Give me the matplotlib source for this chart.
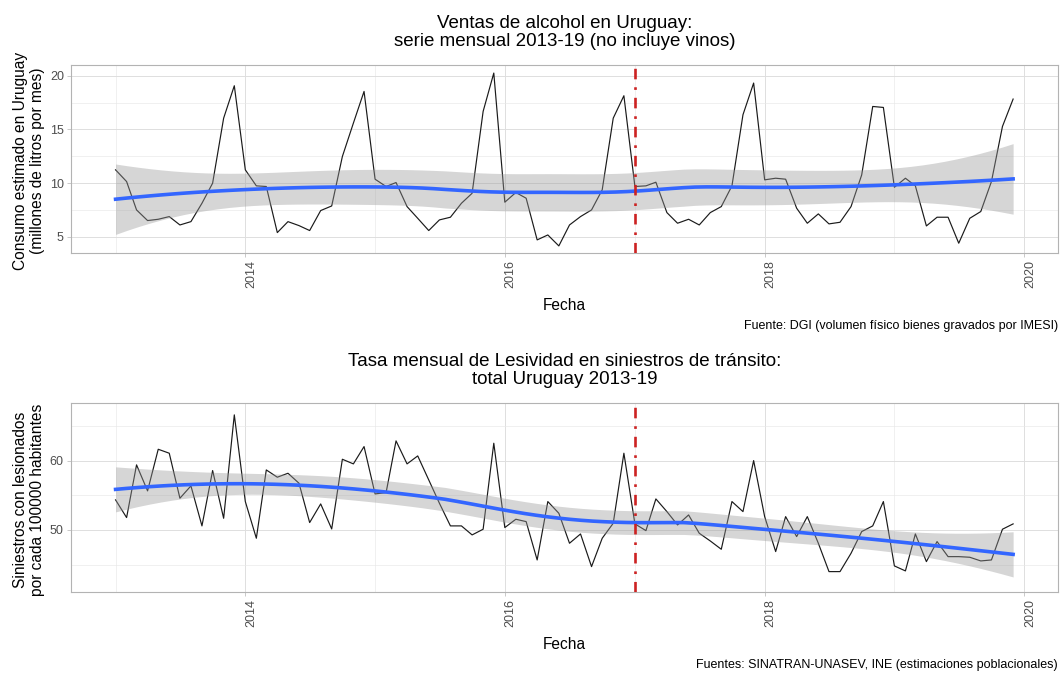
import numpy as np
import pandas as pd
import matplotlib
matplotlib.use("Agg")
import matplotlib.pyplot as plt
import matplotlib.dates as mdates
from matplotlib.ticker import MultipleLocator

plt.rcParams["font.family"] = ["Liberation Sans", "DejaVu Sans"]

# --- data ----------------------------------------------------------------
meses = pd.date_range("2013-01-01", periods=84, freq="MS")

alcohol = [
    11.24, 10.15, 7.51, 6.52, 6.64, 6.89, 6.11, 6.42, 8.13, 10.00, 16.05, 19.07,
    11.24, 9.75, 9.69, 5.40, 6.42, 6.05, 5.59, 7.45, 7.88, 12.48, 15.59, 18.54,
    10.37, 9.69, 10.06, 7.82, 6.73, 5.59, 6.58, 6.83, 8.13, 9.06, 16.68, 20.25,
    8.23, 9.13, 8.60, 4.72, 5.18, 4.16, 6.11, 6.89, 7.51, 9.38, 16.05, 18.14,
    9.69, 9.75, 10.09, 7.26, 6.27, 6.64, 6.11, 7.26, 7.82, 9.75, 16.37, 19.32,
    10.31, 10.46, 10.37, 7.67, 6.27, 7.14, 6.21, 6.36, 7.82, 10.77, 17.14, 17.05,
    9.62, 10.46, 9.75, 6.02, 6.83, 6.83, 4.41, 6.73, 7.36, 10.15, 15.28, 17.83,
]

lesividad = [
    54.33, 51.78, 59.38, 55.63, 61.63, 61.06, 54.57, 56.35, 50.58, 58.56, 51.68, 66.59,
    54.09, 48.80, 58.65, 57.60, 58.17, 56.73, 51.06, 53.75, 50.14, 60.19, 59.52, 62.02,
    55.19, 55.38, 62.84, 59.52, 60.67, 57.21, 53.85, 50.58, 50.58, 49.28, 50.10, 62.50,
    50.34, 51.54, 51.20, 45.67, 54.09, 52.40, 48.08, 49.42, 44.71, 48.80, 50.96, 61.06,
    50.87, 49.90, 54.47, 52.64, 50.72, 52.16, 49.52, 48.41, 47.21, 54.09, 52.64, 60.00,
    51.92, 46.88, 51.92, 49.04, 51.92, 48.08, 43.99, 43.99, 46.63, 49.76, 50.58, 54.09,
    44.81, 44.09, 49.42, 45.43, 48.32, 46.15, 46.15, 46.06, 45.53, 45.67, 50.10, 50.87,
]

fecha_corte = pd.Timestamp("2017-01-01")

titulos = [
    ("Ventas de alcohol en Uruguay:", "serie mensual 2013-19 (no incluye vinos)"),
    ("Tasa mensual de Lesividad en siniestros de tránsito:", "total Uruguay 2013-19"),
]
ylabels = [
    "Consumo estimado en Uruguay\n(millones de litros por mes)",
    "Siniestros con lesionados\npor cada 100000 habitantes",
]
fuentes = [
    "Fuente: DGI (volumen físico bienes gravados por IMESI)",
    "Fuentes: SINATRAN-UNASEV, INE (estimaciones poblacionales)",
]

W, H = 1061, 673


def fx(px):
    return px / W


def fy(py):
    return 1 - py / H


def loess(t, y, t_eval, span=0.75):
    """Local quadratic loess (tricube) with 95% CI, like geom_smooth()."""
    t = np.asarray(t, float)
    y = np.asarray(y, float)
    n = len(t)
    q = int(np.floor(n * span))

    def row(t0):
        d = np.abs(t - t0)
        h = np.sort(d)[q - 1] * 1.0001
        u = np.clip(d / h, 0, 1)
        w = (1 - u ** 3) ** 3
        X = np.column_stack([np.ones(n), t - t0, (t - t0) ** 2])
        XtW = X.T * w
        return np.linalg.solve(XtW @ X, XtW)[0]

    L = np.array([row(v) for v in t])
    Le = np.array([row(v) for v in t_eval])
    resid = y - L @ y
    M = np.eye(n) - L
    MtM = M.T @ M
    one = np.trace(MtM)
    two = np.trace(MtM @ MtM)
    s = np.sqrt(resid @ resid / one)
    df = one ** 2 / two
    z = 1.959964
    tq = z + (z ** 3 + z) / (4 * df) + (5 * z ** 5 + 16 * z ** 3 + 3 * z) / (96 * df ** 2)
    fit = Le @ y
    se = s * np.sqrt((Le ** 2).sum(axis=1))
    return fit, fit - tq * se, fit + tq * se


def panel(fig, top_px, bot_px, x, y, ylim, major, minor, titulo, ylabel, fuente):
    left, right = 70.7, 1058
    ax = fig.add_axes([fx(left), fy(bot_px), fx(right - left), (bot_px - top_px) / H])

    t = (x - x[0]).days.to_numpy() / 365.25
    t_eval = np.linspace(t.min(), t.max(), 80)
    x_eval = x[0] + pd.to_timedelta(t_eval * 365.25, unit="D")
    fit, lo, hi = loess(t, y, t_eval)

    ax.plot(x, y, color="#1A1A1A", lw=0.85, zorder=2)
    ax.fill_between(x_eval, lo, hi, color="#999999", alpha=0.4, lw=0, zorder=3)
    ax.plot(x_eval, fit, color="#3366FF", lw=2.6, zorder=4)
    ax.axvline(fecha_corte, color="#CC2222", lw=1.9, ls=(0, (4, 3, 1, 3)), zorder=5)

    span = x[-1] - x[0]
    ax.set_xlim(x[0] - span * 0.05, x[-1] + span * 0.05)
    ax.set_ylim(*ylim)

    ax.xaxis.set_major_locator(mdates.YearLocator(2))
    ax.xaxis.set_minor_locator(mdates.YearLocator(1))
    ax.xaxis.set_major_formatter(mdates.DateFormatter("%Y"))
    ax.yaxis.set_major_locator(MultipleLocator(major))
    ax.yaxis.set_minor_locator(MultipleLocator(minor))

    ax.set_axisbelow(True)
    ax.grid(True, which="major", color="#DEDEDE", lw=0.7)
    ax.grid(True, which="minor", color="#E8E8E8", lw=0.45)
    for sp in ax.spines.values():
        sp.set_color("#B3B3B3")
        sp.set_linewidth(0.8)
    ax.tick_params(which="major", length=2.75, width=0.5, color="#B3B3B3",
                   labelcolor="#4D4D4D", labelsize=9, pad=2.2)
    ax.tick_params(which="minor", length=0)
    for lab in ax.get_xticklabels():
        lab.set_rotation(90)
        lab.set_ha("left")

    xc = 0.5 * (fx(left) + fx(right))
    fig.text(xc, fy(top_px - 37.5), titulo[0], ha="center", va="baseline", fontsize=13.5)
    fig.text(xc, fy(top_px - 19), titulo[1], ha="center", va="baseline", fontsize=13.5)
    fig.text(xc, fy(bot_px + 57), "Fecha", ha="center", va="baseline", fontsize=11.2)
    fig.text(fx(1058), fy(bot_px + 76), fuente, ha="right", va="baseline", fontsize=9)
    fig.text(fx(29), fy(0.5 * (top_px + bot_px) + 2), ylabel, rotation=90,
             ha="center", va="center", fontsize=11.2, linespacing=1.1)
    return ax


fig = plt.figure(figsize=(W / 100, H / 100), dpi=100)
panel(fig, 65, 253, meses, alcohol, (3.5, 21.0), 5, 2.5,
      titulos[0], ylabels[0], fuentes[0])
panel(fig, 403, 592, meses, lesividad, (41.05, 68.3), 10, 5,
      titulos[1], ylabels[1], fuentes[1])
fig.savefig("out.png", dpi=100)
